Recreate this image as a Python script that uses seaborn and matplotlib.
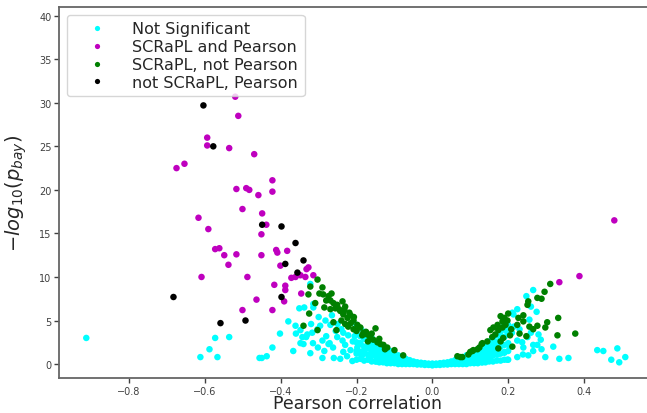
import matplotlib
matplotlib.use("Agg")
import matplotlib.pyplot as plt
import numpy as np
import pandas as pd
import seaborn as sns

# (pearson r, -log10 p_bay)
not_sig = [
    (-0.913, 3.0), (-0.573, 3.0), (-0.536, 3.1), (-0.588, 1.7), (-0.612, 0.8), (-0.567, 0.8),
    (-0.456, 0.7), (-0.450, 0.7), (-0.437, 0.9), (-0.422, 1.9), (-0.402, 3.5), (-0.367, 1.5),
    (-0.360, 3.5), (-0.333, 3.1), (-0.348, 2.4), (-0.315, 2.4), (-0.322, 1.25), (-0.302, 1.9),
    (-0.290, 0.7), (-0.271, 2.4), (-0.262, 1.9), (-0.260, 0.7), (-0.243, 0.6), (-0.235, 1.4),
    (-0.211, 0.35), (-0.200, 1.2), (-0.186, 1.0), (-0.164, 0.8), (-0.148, 0.3), (-0.322, 9.2),
    (-0.351, 6.4), (-0.338, 6.5), (-0.314, 6.5), (-0.314, 6.9), (-0.380, 4.9), (-0.361, 4.4),
    (-0.348, 3.9), (-0.330, 3.4), (-0.317, 3.6), (-0.296, 4.4), (-0.282, 5.0), (-0.269, 4.5),
    (-0.343, 3.1), (-0.340, 2.3), (-0.290, 2.7), (-0.274, 2.3), (-0.251, 3.1), (-0.237, 2.7),
    (-0.222, 3.3), (-0.216, 1.6), (-0.198, 1.9), (-0.303, 4.0), (-0.280, 3.2), (-0.255, 3.8),
    (-0.240, 4.0), (-0.230, 2.2), (-0.210, 2.6), (-0.190, 2.4), (-0.180, 1.6), (-0.170, 2.0),
    (-0.160, 1.3), (-0.150, 1.8), (-0.265, 5.6), (-0.250, 4.6), (-0.235, 3.6), (-0.300, 5.4),
    (-0.320, 4.6), (-0.285, 1.5), (-0.225, 0.9), (-0.205, 3.2),
    (0.266, 8.5), (0.248, 7.8), (0.224, 6.3), (0.211, 5.9), (0.214, 5.7), (0.256, 5.1),
    (0.187, 4.8), (0.266, 2.2), (0.277, 2.2), (0.288, 1.7), (0.319, 2.0), (0.266, 1.5),
    (0.253, 1.0), (0.224, 0.8), (0.298, 0.8), (0.335, 0.6), (0.359, 0.7), (0.435, 1.6),
    (0.451, 1.5), (0.488, 1.8), (0.472, 0.5), (0.493, 0.2), (0.509, 0.8), (0.198, 0.5),
    (0.237, 2.5), (0.240, 1.9), (0.172, 1.1), (0.153, 0.8), (0.132, 0.2), (0.108, 0.6),
    (0.224, 2.7), (0.251, 3.1), (0.286, 2.8), (0.239, 1.1), (0.210, 3.6), (0.195, 3.8),
    (0.180, 3.2), (0.170, 2.4), (0.160, 1.9), (0.150, 1.5), (0.260, 3.6), (0.280, 3.4),
    (0.215, 4.3), (0.230, 4.0), (0.275, 6.0), (0.260, 6.6), (0.200, 2.2), (0.190, 1.4),
]

# dense cloud of non-significant genes around r = 0
not_sig_core = [
    (-0.20, 0.5), (-0.20, 1.5), (-0.20, 2.5), (-0.20, 3.5), (-0.20, 4.5),
    (-0.19, 0.6), (-0.19, 1.4), (-0.19, 2.3), (-0.19, 3.2), (-0.19, 4.1),
    (-0.18, 0.4), (-0.18, 1.2), (-0.18, 2.0), (-0.18, 2.9), (-0.18, 3.7),
    (-0.17, 0.5), (-0.17, 1.1), (-0.17, 1.8), (-0.17, 2.6), (-0.17, 3.3),
    (-0.16, 0.3), (-0.16, 1.0), (-0.16, 1.6), (-0.16, 2.3), (-0.16, 3.0),
    (-0.15, 0.3), (-0.15, 0.9), (-0.15, 1.4), (-0.15, 2.0), (-0.15, 2.6),
    (-0.14, 0.2), (-0.14, 0.8), (-0.14, 1.3), (-0.14, 1.8), (-0.14, 2.3),
    (-0.13, 0.2), (-0.13, 0.7), (-0.13, 1.1), (-0.13, 1.6), (-0.13, 2.0),
    (-0.12, 0.1), (-0.12, 0.6), (-0.12, 1.0), (-0.12, 1.4), (-0.12, 1.7),
    (-0.11, 0.1), (-0.11, 0.5), (-0.11, 0.9), (-0.11, 1.2), (-0.11, 1.5),
    (-0.10, 0.1), (-0.10, 0.5), (-0.10, 0.8), (-0.10, 1.2),
    (-0.09, 0.0), (-0.09, 0.4), (-0.09, 0.7), (-0.09, 1.0),
    (-0.08, 0.0), (-0.08, 0.4), (-0.08, 0.8),
    (-0.07, 0.0), (-0.07, 0.3), (-0.07, 0.6),
    (-0.06, 0.0), (-0.06, 0.2), (-0.06, 0.45),
    (-0.05, 0.0), (-0.05, 0.15), (-0.05, 0.3),
    (-0.04, -0.05), (-0.04, 0.1), (-0.04, 0.2),
    (-0.03, -0.05), (-0.03, 0.05), (-0.03, 0.15),
    (-0.02, -0.1), (-0.02, 0.0), (-0.02, 0.1),
    (-0.01, -0.1), (-0.01, 0.0), (-0.01, 0.05),
    (0.00, -0.15), (0.00, 0.0), (0.00, 0.05),
    (0.01, -0.1), (0.01, 0.0), (0.01, 0.05),
    (0.02, -0.1), (0.02, 0.0), (0.02, 0.1),
    (0.03, -0.05), (0.03, 0.05), (0.03, 0.15),
    (0.04, -0.05), (0.04, 0.1), (0.04, 0.2),
    (0.05, 0.0), (0.05, 0.15), (0.05, 0.3),
    (0.06, 0.0), (0.06, 0.2), (0.06, 0.45),
    (0.07, 0.0), (0.07, 0.3), (0.07, 0.6),
    (0.08, 0.0), (0.08, 0.4), (0.08, 0.8),
    (0.09, 0.0), (0.09, 0.4), (0.09, 0.7), (0.09, 1.0),
    (0.10, 0.1), (0.10, 0.5), (0.10, 0.8), (0.10, 1.2),
    (0.11, 0.1), (0.11, 0.5), (0.11, 0.9), (0.11, 1.4),
    (0.12, 0.1), (0.12, 0.6), (0.12, 1.0), (0.12, 1.4), (0.12, 1.7),
    (0.13, 0.2), (0.13, 0.7), (0.13, 1.1), (0.13, 1.6), (0.13, 2.0),
    (0.14, 0.2), (0.14, 0.8), (0.14, 1.3), (0.14, 1.8), (0.14, 2.3),
    (0.15, 0.3), (0.15, 0.9), (0.15, 1.4), (0.15, 2.0), (0.15, 2.6),
    (0.16, 0.3), (0.16, 1.0), (0.16, 1.6), (0.16, 2.3), (0.16, 3.0),
    (0.17, 0.4), (0.17, 1.1), (0.17, 1.8), (0.17, 2.5), (0.17, 3.3),
    (0.18, 0.4), (0.18, 1.2), (0.18, 2.0), (0.18, 2.8), (0.18, 3.7),
    (0.19, 0.5), (0.19, 1.3), (0.19, 2.2), (0.19, 3.1), (0.19, 4.1),
    (0.20, 0.5), (0.20, 1.5), (0.20, 2.4), (0.20, 3.4), (0.20, 4.5),
]

both_sig = [
    (-0.520, 30.7), (-0.512, 28.5), (-0.594, 26.0), (-0.594, 25.1), (-0.536, 24.8),
    (-0.470, 24.1), (-0.675, 22.5), (-0.654, 23.0), (-0.422, 21.1), (-0.517, 20.1),
    (-0.491, 20.2), (-0.483, 20.0), (-0.459, 19.4), (-0.422, 19.8), (-0.501, 17.8),
    (-0.449, 17.3), (-0.617, 16.8), (-0.438, 16.0), (-0.451, 14.9), (-0.591, 15.5),
    (-0.573, 13.2), (-0.562, 13.3), (-0.549, 12.5), (-0.517, 12.6), (-0.451, 12.5),
    (-0.412, 13.1), (-0.409, 12.8), (-0.383, 13.0), (-0.538, 11.4), (-0.401, 11.3),
    (-0.332, 10.9), (-0.327, 11.1), (-0.372, 9.9), (-0.361, 10.0), (-0.348, 10.2),
    (-0.335, 10.0), (-0.314, 10.2), (-0.609, 10.0), (-0.488, 10.0), (-0.417, 9.1),
    (-0.388, 9.0), (-0.388, 8.5), (-0.464, 7.4), (-0.391, 7.2), (-0.346, 8.1),
    (-0.501, 6.2), (-0.422, 6.2), (0.480, 16.5), (0.388, 10.1), (0.335, 9.4),
]

scrapl_only = [
    (-0.303, 9.7), (-0.322, 8.9), (-0.290, 8.8), (-0.298, 8.1), (-0.288, 8.0), (-0.274, 7.8),
    (-0.266, 8.1), (-0.327, 8.0), (-0.309, 7.0), (-0.269, 7.3), (-0.261, 7.0), (-0.251, 6.8),
    (-0.285, 6.5), (-0.269, 6.3), (-0.256, 6.4), (-0.246, 6.3), (-0.232, 6.2), (-0.219, 5.9),
    (-0.207, 5.4), (-0.325, 5.8), (-0.243, 6.1), (-0.235, 5.7), (-0.224, 5.3), (-0.216, 5.6),
    (-0.208, 5.0), (-0.198, 4.5), (-0.190, 4.2), (-0.261, 4.8), (-0.340, 4.4), (-0.222, 4.3),
    (-0.208, 4.0), (-0.253, 3.9), (-0.303, 3.9), (-0.150, 4.1), (-0.182, 3.6), (-0.172, 3.4),
    (-0.164, 3.1), (-0.156, 2.8), (-0.145, 2.5), (-0.137, 2.3), (-0.129, 2.2), (-0.119, 1.9),
    (-0.077, 1.0), (-0.240, 5.0), (-0.230, 4.6), (-0.215, 4.7), (-0.200, 3.8), (-0.185, 3.3),
    (-0.175, 3.7), (-0.160, 3.5), (-0.140, 2.9), (-0.230, 6.6), (-0.237, 7.2), (-0.280, 7.3),
    (-0.170, 2.6), (-0.125, 1.7), (-0.100, 1.6),
    (0.066, 0.9), (0.079, 0.8), (0.100, 1.4), (0.108, 1.6), (0.119, 1.7), (0.124, 1.9),
    (0.130, 2.3), (0.132, 2.4), (0.106, 1.5), (0.095, 1.1), (0.074, 0.8), (0.311, 9.2),
    (0.296, 8.3), (0.277, 7.6), (0.288, 7.5), (0.253, 7.2), (0.251, 6.8), (0.332, 5.3),
    (0.303, 4.8), (0.298, 4.2), (0.277, 4.4), (0.266, 4.0), (0.256, 4.3), (0.240, 5.6),
    (0.227, 5.3), (0.240, 4.9), (0.198, 5.0), (0.193, 4.5), (0.185, 4.2), (0.174, 3.9),
    (0.166, 3.4), (0.158, 3.1), (0.208, 4.0), (0.224, 4.5), (0.230, 3.5), (0.248, 3.2),
    (0.330, 3.3), (0.377, 3.5), (0.187, 3.0), (0.211, 2.0), (0.174, 1.8), (0.153, 3.9),
    (0.161, 4.2), (0.172, 4.5), (0.180, 5.5), (0.190, 5.3), (0.200, 5.8), (0.185, 4.9),
    (0.205, 3.3), (0.180, 2.6), (0.145, 2.6),
]

pearson_only = [
    (-0.604, 29.7), (-0.578, 25.0), (-0.449, 16.0), (-0.398, 15.8), (-0.361, 13.9),
    (-0.340, 11.9), (-0.388, 11.5), (-0.356, 10.5), (-0.683, 7.7), (-0.398, 7.7),
    (-0.493, 5.0), (-0.559, 4.7),
]

group_names = ["Not Significant", "SCRaPL and Pearson", "SCRaPL, not Pearson", "not SCRaPL, Pearson"]
group_colors = ["cyan", "m", "green", "black"]
x_ticks = [-0.8, -0.6, -0.4, -0.2, 0.0, 0.2, 0.4]
y_ticks = [0, 5, 10, 15, 20, 25, 30, 35, 40]

groups = [not_sig + not_sig_core, both_sig, scrapl_only, pearson_only]
frames = []
for name, pts in zip(group_names, groups):
    arr = np.array(pts)
    frames.append(pd.DataFrame({"r": arr[:, 0], "nlp": arr[:, 1], "group": name}))
df = pd.concat(frames, ignore_index=True)

sns.set_style("ticks")
plt.rcParams["font.family"] = ["DejaVu Sans"]

fig = plt.figure(figsize=(6.47, 4.14), dpi=100)
ax = fig.add_axes([59 / 647, 35 / 414, 597 / 647, 371 / 414])

sns.scatterplot(data=df, x="r", y="nlp", hue="group", hue_order=group_names,
                palette=dict(zip(group_names, group_colors)), s=22, linewidth=0, ax=ax)

ax.set_xlim(-0.985, 0.59)
ax.set_ylim(-1.6, 41.0)
ax.set_xticks(x_ticks)
ax.set_yticks(y_ticks)
ax.tick_params(labelsize=7, length=3.5, width=1, colors="0.25", pad=2)
for sp in ax.spines.values():
    sp.set_color("0.4")
    sp.set_linewidth(1.3)

ax.set_xlabel("Pearson correlation", fontsize=12.5, labelpad=-1)
ax.set_ylabel(r"$-log_{10}(p_{bay})$", fontsize=14, labelpad=7)

handles, labels = ax.get_legend_handles_labels()
ax.legend(handles, labels, loc="upper left", fontsize=11.5, markerscale=0.8,
          handlelength=2.9, labelspacing=0.18, borderpad=0.4, framealpha=0.8)

fig.savefig("out.png", dpi=100)
